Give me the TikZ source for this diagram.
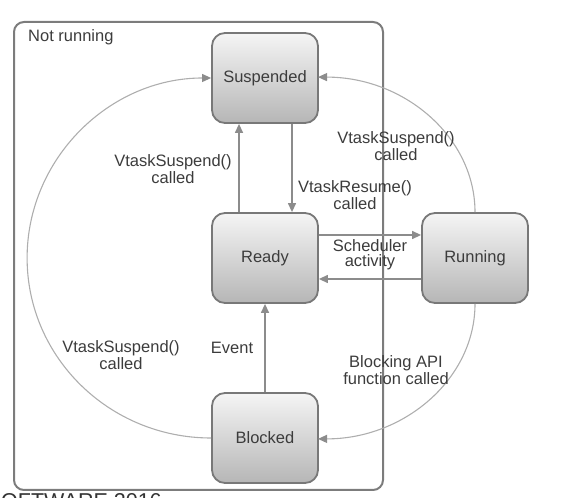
\documentclass[tikz,border=0pt]{standalone}
\usepackage{fontspec}
\setmainfont{Liberation Sans}
\usetikzlibrary{arrows.meta}
\definecolor{txt}{HTML}{3C3C3C}
\definecolor{boxline}{HTML}{787878}
\definecolor{boxtop}{HTML}{F5F5F5}
\definecolor{boxbot}{HTML}{B6B6B6}
\definecolor{conn}{HTML}{8C8C8C}
\definecolor{curvecol}{HTML}{AEAEAE}
\definecolor{framecol}{HTML}{7C7C7C}
\begin{document}
\begin{tikzpicture}[x=1pt,y=1pt,
  state/.style={draw=boxline, line width=1.8pt, rounded corners=13pt,
    top color=boxtop, bottom color=boxbot, minimum width=106pt,
    minimum height=90pt, text=txt, inner sep=0pt,
    font=\fontsize{16.5}{15}\selectfont},
  lbl/.style={text=txt, align=center, inner sep=0pt,
    font=\fontsize{16.5}{15}\selectfont},
  straight/.style={draw=conn, line width=1.3pt,
    -{Triangle[length=9pt,width=8pt,color=conn]}},
  curved/.style={draw=curvecol, line width=1.1pt,
    -{Triangle[length=9pt,width=8pt,color=conn]}}
]
\useasboundingbox (0,0) rectangle (573,498);

% frame "Not running"
\draw[framecol, line width=2pt, rounded corners=10pt] (14,8) rectangle (383,476);
\node[lbl, anchor=west] (nr) at (28,461) {Not running};

% states
\node[state] (S) at (265,420) {Suspended};
\node[state] (R) at (265,240) {Ready};
\node[state] (B) at (265,60) {Blocked};
\node[state] (Run) at (475,240) {Running};

% straight connectors
\draw[straight] ([xshift=-26pt]R.north) -- ([xshift=-26pt]S.south);
\draw[straight] ([xshift=27pt]S.south) -- ([xshift=27pt]R.north);
\draw[straight] ([yshift=23pt]R.east) -- ([yshift=23pt]Run.west);
\draw[straight] ([yshift=-21pt]Run.west) -- ([yshift=-21pt]R.east);
\draw[straight] (B.north) -- (R.south);

% curved connectors
\draw[curved] (B.west) arc[start angle=270, end angle=90, x radius=184pt, y radius=180pt];
\draw[curved] (Run.north) arc[start angle=0, end angle=90, x radius=157pt, y radius=135pt];
\draw[curved] (Run.south) arc[start angle=0, end angle=-90, x radius=157pt, y radius=135pt];

% labels
\node[lbl] (l1) at (173,329) {VtaskSuspend()\\called};
\node[lbl] (l2) at (355,303) {VtaskResume()\\called};
\node[lbl] (l3) at (370,243) {Scheduler\\activity};
\node[lbl] (l4) at (396,352) {VtaskSuspend()\\called};
\node[lbl] (l5) at (232,150) {Event};
\node[lbl] (l6) at (121,143) {VtaskSuspend()\\called};
\node[lbl] (l7) at (396,128) {Blocking API\\function called};

% clipped footer text
\begin{scope}
  \clip (0,0) rectangle (573,498);
  \node[anchor=base west, inner sep=0pt, text=black!80,
    font=\fontsize{21.5}{24}\selectfont] (ft) at (1,-10.5) {OFTWARE 2016};
\end{scope}
\end{tikzpicture}
\end{document}
